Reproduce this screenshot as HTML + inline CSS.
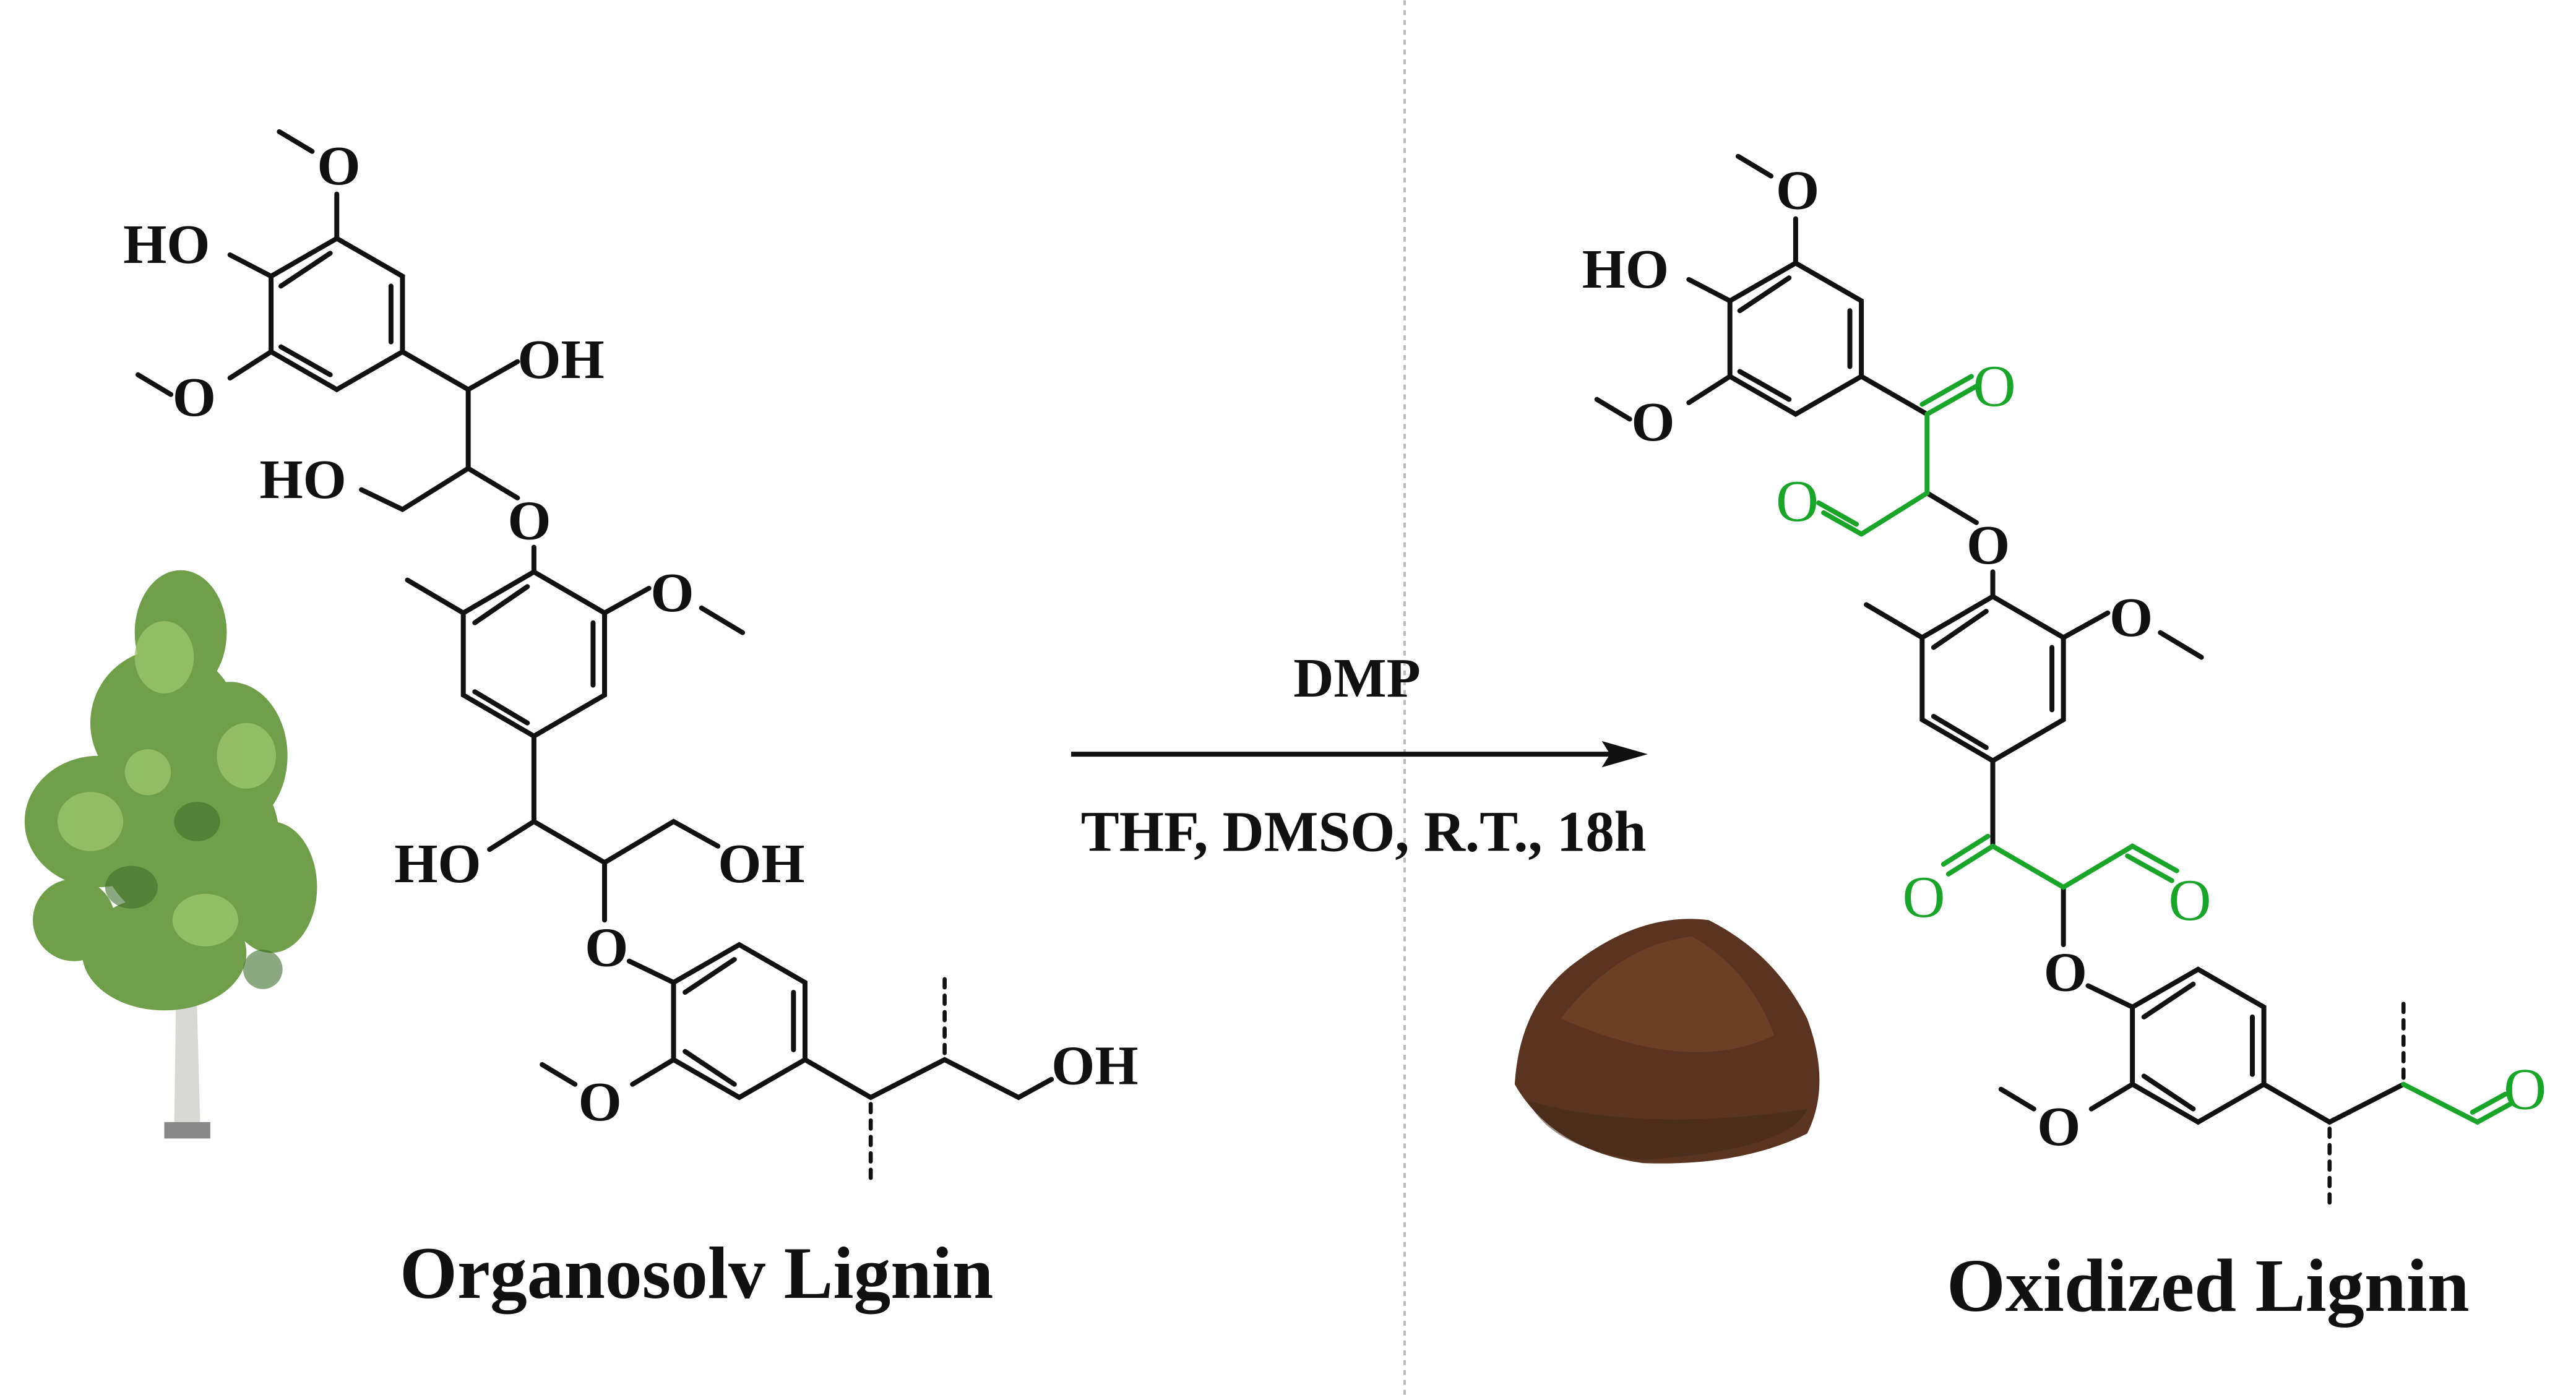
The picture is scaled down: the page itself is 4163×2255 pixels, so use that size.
<!DOCTYPE html>
<html><head><meta charset="utf-8"><style>
html,body{margin:0;padding:0;background:#fff;}
svg{display:block;}
text{font-family:"Liberation Serif",serif;font-weight:bold;}
</style></head><body>
<svg width="4163" height="2255" viewBox="0 0 1568 849" xmlns="http://www.w3.org/2000/svg">
<rect width="1568" height="849" fill="#fff"/>
<line x1="855" y1="0" x2="855" y2="849" stroke="#bbb" stroke-width="1.5" stroke-dasharray="3,3"/>

<!-- LEFT MOLECULE -->
<g stroke="#111" stroke-width="3" fill="none" stroke-linecap="round">
<path d="M205,145 L245,168 L245,214 L205,237 L165,214 L165,168 Z"/>
<path d="M238,174 L238,208 M201,228 L171,211 M171,174 L201,154"/>
<path d="M205,145 L205,118 M190,92 L170,80 M165,168 L140,155 M165,214 L140,230 M104,240 L84,228"/>
<path d="M245,214 L285,237 L315,220 M285,237 L285,285 L245,310 L220,298 M285,285 L315,303"/>
<path d="M325,333 L325,348 M325,348 L368,373 L368,423 L325,448 L282,423 L282,373 Z"/>
<path d="M361,379 L361,417 M321,440 L289,421 M289,379 L321,357"/>
<path d="M282,373 L248,353 M368,373 L395,358 M427,370 L452,385"/>
<path d="M325,448 L325,500 L298,517 M325,500 L368,525 L410,500 L437,515 M368,525 L368,560"/>
<path d="M383,585 L410,598 M410,598 L450,575 L490,598 L490,645 L450,668 L410,645 Z"/>
<path d="M417,604 L447,584 M483,604 L483,639 M417,640 L447,660"/>
<path d="M410,645 L385,660 M350,660 L330,648"/>
<path d="M490,645 L530,668 L575,645 L620,668 L640,657"/>
<path d="M530,672 L530,718 M575,641 L575,595" stroke-dasharray="5,5" stroke-width="2.5"/>
</g>
<g font-size="34" fill="#111">
<text x="193" y="112">O</text>
<text x="75" y="160">HO</text>
<text x="105" y="253">O</text>
<text x="315" y="230">OH</text>
<text x="158" y="303">HO</text>
<text x="309" y="328">O</text>
<text x="396" y="372">O</text>
<text x="240" y="537">HO</text>
<text x="437" y="537">OH</text>
<text x="356" y="588">O</text>
<text x="352" y="682">O</text>
<text x="640" y="660">OH</text>
</g>

<!-- RIGHT MOLECULE -->
<g transform="translate(888,15)">
<g stroke="#111" stroke-width="3" fill="none" stroke-linecap="round">
<path d="M205,145 L245,168 L245,214 L205,237 L165,214 L165,168 Z"/>
<path d="M238,174 L238,208 M201,228 L171,211 M171,174 L201,154"/>
<path d="M205,145 L205,118 M190,92 L170,80 M165,168 L140,155 M165,214 L140,230 M104,240 L84,228"/>
<path d="M245,214 L285,237"/>
<path d="M285,285 L315,303"/>
<path d="M325,333 L325,348 M325,348 L368,373 L368,423 L325,448 L282,423 L282,373 Z"/>
<path d="M361,379 L361,417 M321,440 L289,421 M289,379 L321,357"/>
<path d="M282,373 L248,353 M368,373 L395,358 M427,370 L452,385"/>
<path d="M325,448 L325,500 M368,525 L368,560"/>
<path d="M383,585 L410,598 M410,598 L450,575 L490,598 L490,645 L450,668 L410,645 Z"/>
<path d="M417,604 L447,584 M483,604 L483,639 M417,640 L447,660"/>
<path d="M410,645 L385,660 M350,660 L330,648"/>
<path d="M490,645 L530,668 L575,645"/>
<path d="M530,672 L530,718 M575,641 L575,595" stroke-dasharray="5,5" stroke-width="2.5"/>
</g>
<g stroke="#1aa52a" stroke-width="3" fill="none" stroke-linecap="round">
<path d="M285,237 L285,285 L245,310 M285,237 L315,220 M282,231 L312,214"/>
<path d="M245,310 L222,297 M242,304 L219,291"/>
<path d="M325,500 L298,517 M322,494 L295,511 M325,500 L368,525 L410,500 L437,515 M407,506 L434,521"/>
<path d="M575,645 L620,668 L640,657 M617,662 L637,651"/>
</g>
<g font-size="34" fill="#111">
<text x="193" y="112">O</text>
<text x="75" y="160">HO</text>
<text x="105" y="253">O</text>
<text x="309" y="328">O</text>
<text x="396" y="372">O</text>
<text x="356" y="588">O</text>
<text x="352" y="682">O</text>
</g>
<g font-size="36" fill="#1aa52a">
<text x="313" y="232" style="font-weight:normal">O</text>
<text x="193" y="302" style="font-weight:normal">O</text>
<text x="270" y="543" style="font-weight:normal">O</text>
<text x="432" y="545" style="font-weight:normal">O</text>
<text x="636" y="660" style="font-weight:normal">O</text>
</g>
</g>

<!-- ARROW -->
<line x1="652" y1="459" x2="985" y2="459" stroke="#111" stroke-width="3"/>
<polygon points="1003,459 975,451 980,459 975,467" fill="#111"/>
<text x="826" y="424" font-size="34" text-anchor="middle" fill="#111">DMP</text>
<text x="830" y="518" font-size="35" text-anchor="middle" fill="#111">THF, DMSO, R.T., 18h</text>

<!-- LABELS -->
<text x="424" y="790" font-size="45" text-anchor="middle" fill="#111">Organosolv Lignin</text>
<text x="1344" y="798" font-size="46" text-anchor="middle" fill="#111">Oxidized Lignin</text>

<!-- TREE -->
<polygon points="106,690 108,540 118,540 122,690" fill="#d8d8d4"/>
<rect x="100" y="683" width="28" height="10" fill="#888"/>
<g fill="#6f9f4a">
<ellipse cx="110" cy="385" rx="28" ry="38"/>
<ellipse cx="100" cy="440" rx="45" ry="45"/>
<ellipse cx="140" cy="460" rx="35" ry="45"/>
<ellipse cx="60" cy="500" rx="45" ry="40"/>
<ellipse cx="115" cy="510" rx="55" ry="55"/>
<ellipse cx="165" cy="540" rx="28" ry="40"/>
<ellipse cx="100" cy="580" rx="50" ry="35"/>
<ellipse cx="45" cy="560" rx="25" ry="25"/>
</g>
<g fill="#9cc46c" opacity="0.8">
<ellipse cx="100" cy="400" rx="18" ry="22"/>
<ellipse cx="150" cy="460" rx="18" ry="20"/>
<ellipse cx="55" cy="500" rx="20" ry="18"/>
<ellipse cx="125" cy="560" rx="20" ry="16"/>
<ellipse cx="90" cy="470" rx="14" ry="14"/>
</g>
<g fill="#3f6e2c" opacity="0.6">
<ellipse cx="80" cy="540" rx="16" ry="13"/>
<ellipse cx="120" cy="500" rx="14" ry="12"/>
<ellipse cx="160" cy="590" rx="12" ry="12"/>
</g>

<!-- SOIL -->
<path d="M922,660 Q925,610 960,585 Q1000,555 1040,560 Q1080,580 1100,620 Q1115,660 1100,690 Q1060,710 1000,708 Q945,700 922,660 Z" fill="#5a3420"/>
<path d="M950,620 Q985,575 1030,570 Q1065,590 1080,630 Q1030,655 950,620 Z" fill="#7a4a2c" opacity="0.6"/>
<path d="M930,670 Q1000,690 1100,675 Q1090,700 1000,706 Q945,700 930,670 Z" fill="#3e2414" opacity="0.5"/>
</svg>
</body></html>
